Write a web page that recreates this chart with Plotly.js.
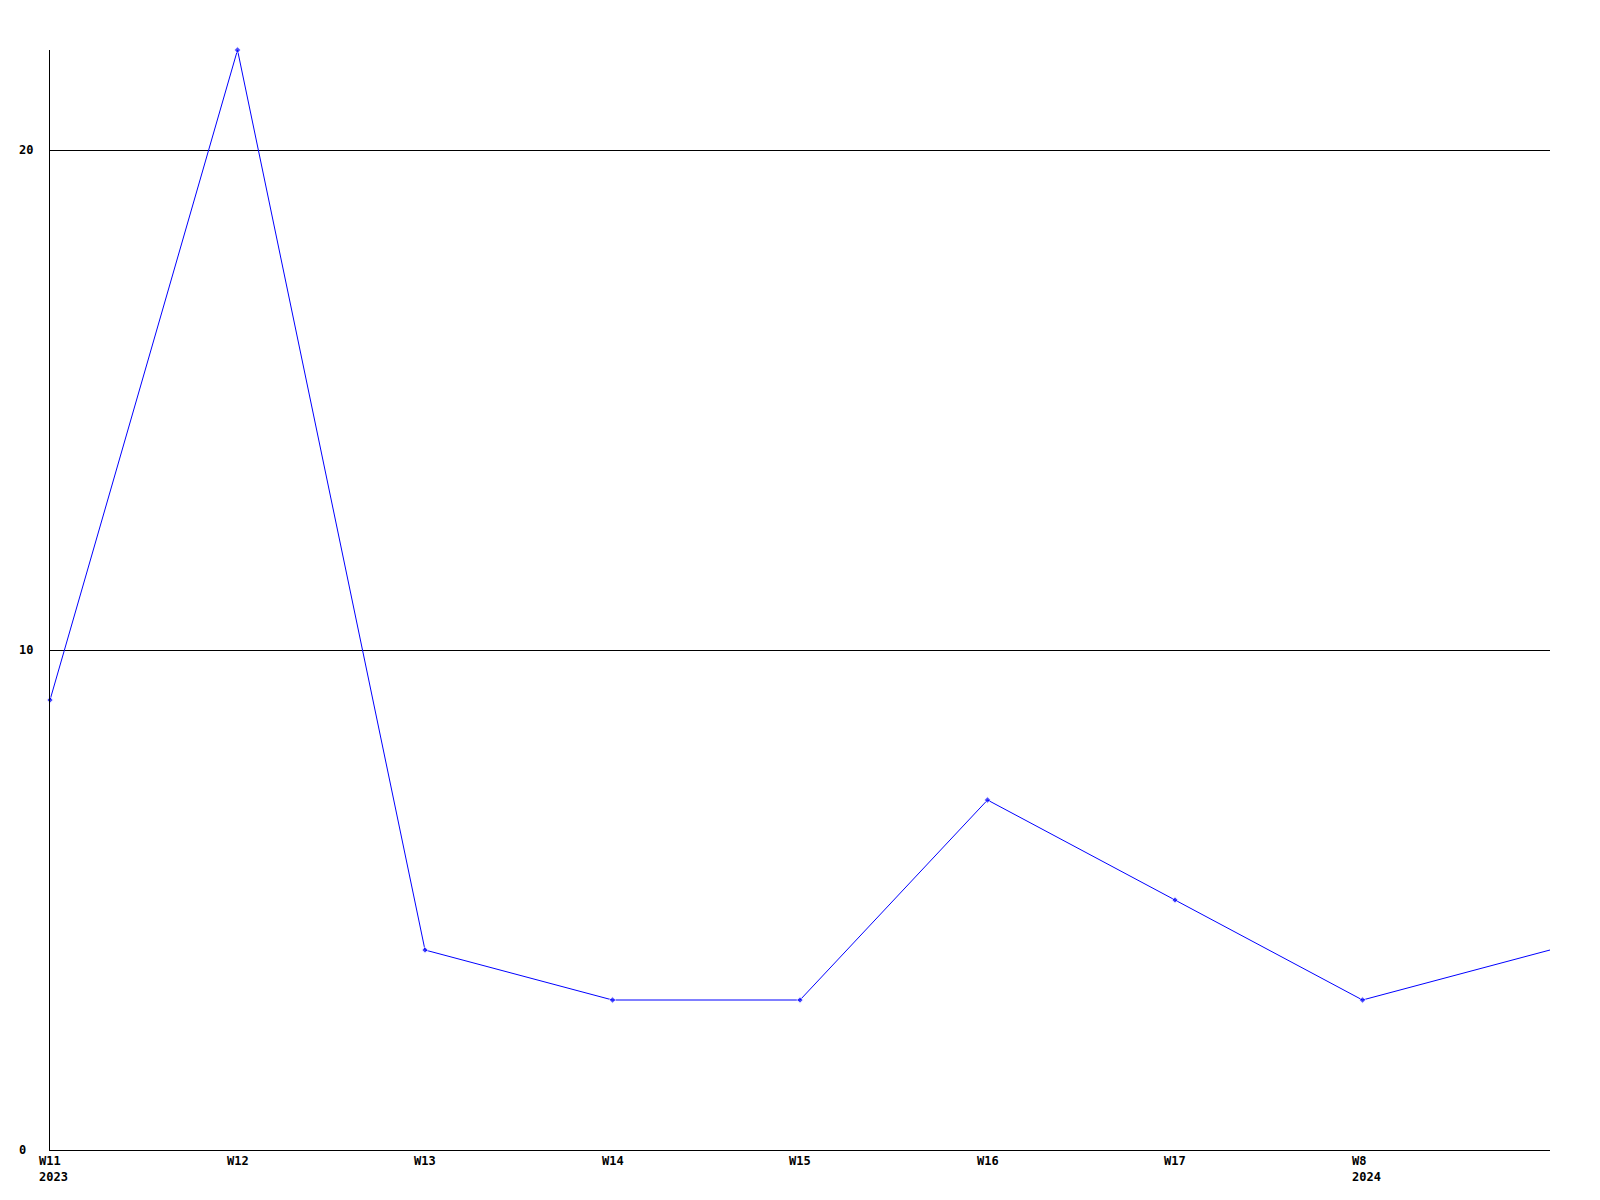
<!DOCTYPE html>
<html>
<head>
<meta charset="utf-8">
<script src="https://cdn.plot.ly/plotly-3.0.1.min.js"></script>
<style>html,body{margin:0;padding:0;background:#fff;}#chart{width:1600px;height:1200px;}</style>
</head>
<body>
<div id="chart"></div>
<script>
// Data
const weekLabels = ["W11", "W12", "W13", "W14", "W15", "W16", "W17", "W8", ""];
const yearLabels = ["2023", "", "", "", "", "", "", "2024", ""];
const values = [9, 22, 4, 3, 3, 7, 5, 3, 4];
const yTicks = [0, 10, 20];

const idx = values.map((v, i) => i);
const font = {family: "DejaVu Sans Mono, Liberation Mono, monospace", size: 12, color: "#000"};

const trace = {
  x: idx,
  y: values,
  type: "scatter",
  mode: "lines+markers",
  line: {color: "#0000ff", width: 1},
  marker: {symbol: "diamond", color: "#0000ff", size: values.map((v, i) => i === values.length - 1 ? 0 : 5)},
  cliponaxis: false,
  hoverinfo: "x+y"
};

const annotations = [];
idx.forEach(i => {
  const txt = [weekLabels[i], yearLabels[i]].filter(s => s !== "").join("<br>");
  if (!txt) return;
  annotations.push({
    x: i, xref: "x", y: 0, yref: "paper",
    xanchor: "left", yanchor: "top", align: "left",
    xshift: -13, yshift: -2,
    text: "<b>" + txt + "</b>", showarrow: false, font: font
  });
});
yTicks.forEach(t => {
  annotations.push({
    x: 0, xref: "paper", xshift: -33, y: t, yref: "y",
    xanchor: "left", yanchor: "middle", align: "left",
    text: "<b>" + t + "</b>", showarrow: false, font: font
  });
});

const layout = {
  width: 1600, height: 1200,
  margin: {l: 50, r: 50, t: 50, b: 50, pad: 0},
  paper_bgcolor: "#fff", plot_bgcolor: "#fff",
  showlegend: false,
  font: font,
  xaxis: {
    range: [0, values.length - 1], showgrid: false, zeroline: false,
    showticklabels: false, ticks: "", showline: true, linecolor: "#000", linewidth: 1,
    fixedrange: true
  },
  yaxis: {
    range: [0, 22], tickvals: yTicks, showticklabels: false, ticks: "",
    showgrid: true, gridcolor: "#000", gridwidth: 1, zeroline: false,
    showline: true, linecolor: "#000", linewidth: 1, fixedrange: true
  },
  annotations: annotations
};

Plotly.newPlot("chart", [trace], layout, {displayModeBar: false, staticPlot: true});
</script>
</body>
</html>
